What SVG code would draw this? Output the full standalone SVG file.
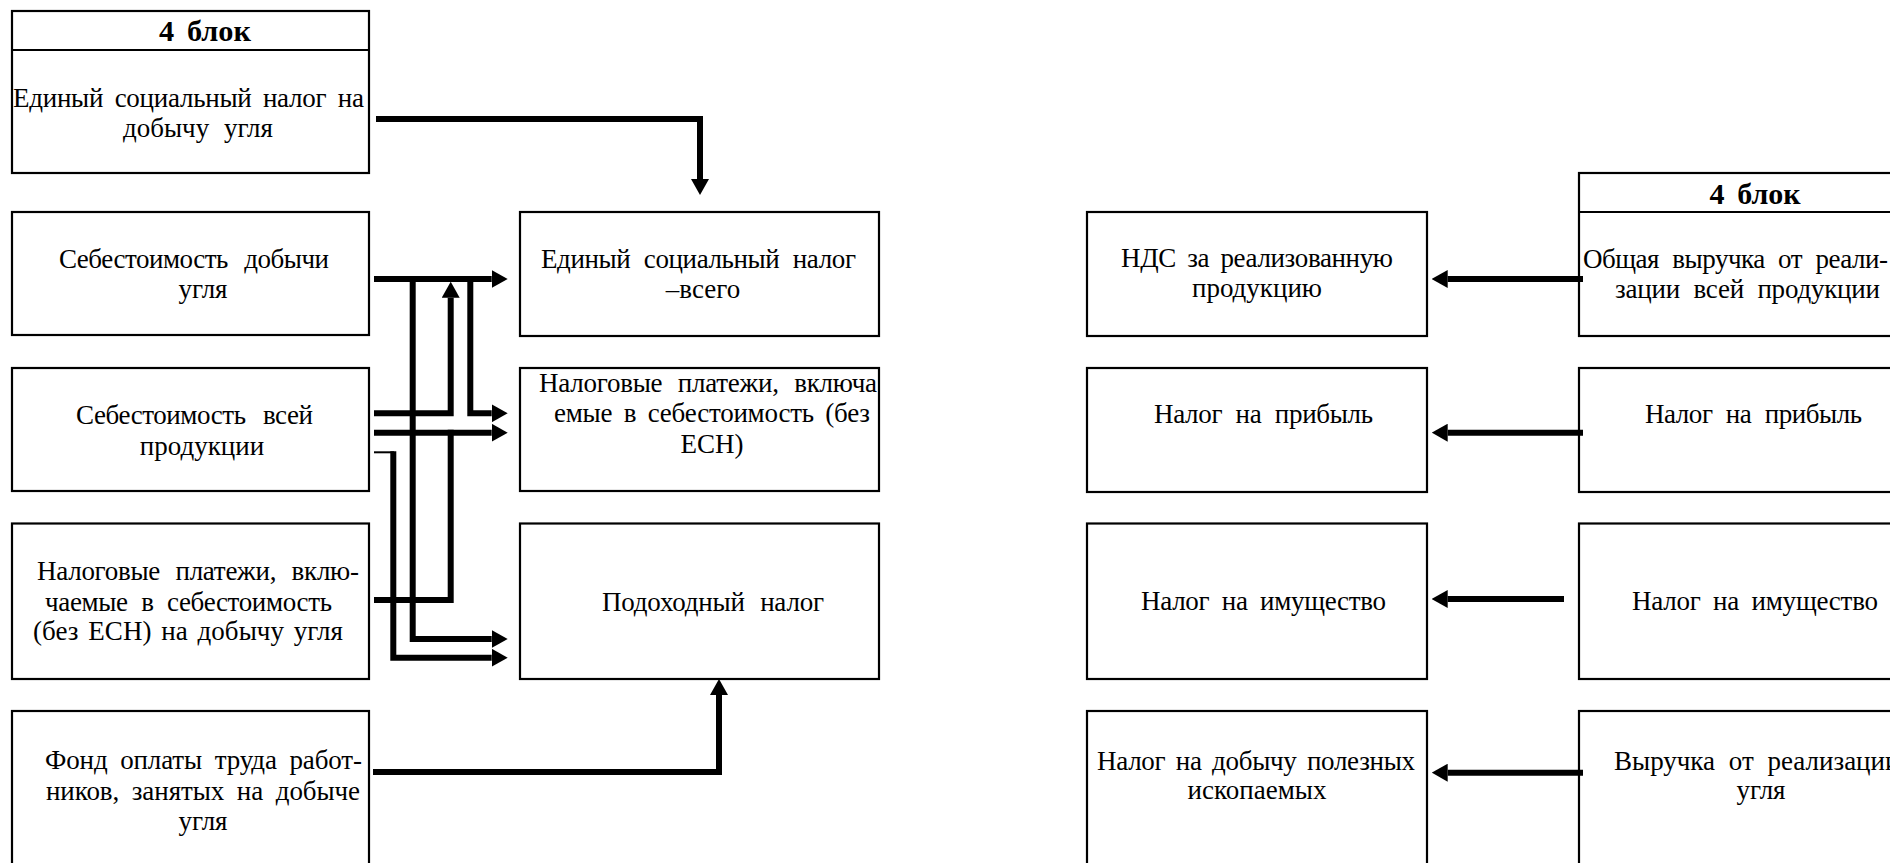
<svg xmlns="http://www.w3.org/2000/svg" width="1890" height="863" viewBox="0 0 1890 863">
  <style>
    .box { fill: #fff; stroke: #000; stroke-width: 2.2; }
    .sep { stroke: #000; stroke-width: 2.2; }
    .t { font-family: "Liberation Serif", "Times New Roman", serif; font-size: 27px; fill: #000; word-spacing: 5px; }
    .c { text-anchor: middle; }
    .h { font-weight: bold; font-size: 29px; }
    .wire { fill: none; stroke: #000; stroke-width: 6; stroke-linejoin: miter; stroke-linecap: butt; }
    .thin { fill: none; stroke: #000; stroke-width: 2; }
  </style>
  <defs>
    <marker id="ah" viewBox="0 0 16 18" markerWidth="16" markerHeight="18" refX="0" refY="9" orient="auto" markerUnits="userSpaceOnUse">
      <path d="M0,0 L16,9 L0,18 z" fill="#000"/>
    </marker>
  </defs>

  <rect width="1890" height="863" fill="#fff"/>

  <!-- left column: sources -->
  <g id="esn-coal">
    <rect class="box" x="12" y="11" width="357" height="162"/>
    <line class="sep" x1="12" y1="50" x2="369" y2="50"/>
    <text class="t h c" x="205" y="41" textLength="92" lengthAdjust="spacingAndGlyphs">4 блок</text>
    <text class="t" x="13" y="107" textLength="351" lengthAdjust="spacing" style="word-spacing:5px">Единый социальный налог на</text>
    <text class="t c" x="198" y="137" style="word-spacing:8px">добычу угля</text>
  </g>
  <g id="cost-coal">
    <rect class="box" x="12" y="212" width="357" height="123"/>
    <text class="t" x="59" y="268" textLength="270" lengthAdjust="spacing" style="word-spacing:10px">Себестоимость добычи</text>
    <text class="t c" x="203" y="298">угля</text>
  </g>
  <g id="cost-all">
    <rect class="box" x="12" y="368" width="357" height="123"/>
    <text class="t" x="76" y="424" textLength="237" lengthAdjust="spacing" style="word-spacing:11px">Себестоимость всей</text>
    <text class="t c" x="202" y="455">продукции</text>
  </g>
  <g id="tax-in-cost-coal">
    <rect class="box" x="12" y="523.5" width="357" height="155.5"/>
    <text class="t" x="37" y="580" textLength="322" lengthAdjust="spacing" style="word-spacing:9px">Налоговые платежи, вклю-</text>
    <text class="t" x="45" y="611" textLength="287" lengthAdjust="spacing" style="word-spacing:7px">чаемые в себестоимость</text>
    <text class="t" x="33" y="640" textLength="310" lengthAdjust="spacing" style="word-spacing:3px">(без ЕСН) на добычу угля</text>
  </g>
  <g id="payroll">
    <rect class="box" x="12" y="711" width="357" height="200"/>
    <text class="t" x="45" y="769" textLength="317" lengthAdjust="spacing" style="word-spacing:6px">Фонд оплаты труда работ-</text>
    <text class="t" x="46" y="800" textLength="314" lengthAdjust="spacing" style="word-spacing:6px">ников, занятых на добыче</text>
    <text class="t c" x="203" y="830">угля</text>
  </g>

  <!-- middle column: taxes -->
  <g id="esn-total">
    <rect class="box" x="520" y="212" width="359" height="124"/>
    <text class="t" x="541" y="268" textLength="315" lengthAdjust="spacing" style="word-spacing:7px">Единый социальный налог</text>
    <text class="t c" x="703" y="298">–всего</text>
  </g>
  <g id="tax-in-cost">
    <rect class="box" x="520" y="368" width="359" height="123"/>
    <text class="t" x="539" y="392" textLength="338" lengthAdjust="spacing" style="word-spacing:9px">Налоговые платежи, включа</text>
    <text class="t" x="554" y="422" textLength="316" lengthAdjust="spacing" style="word-spacing:5px">емые в себестоимость (без</text>
    <text class="t c" x="712" y="453">ЕСН)</text>
  </g>
  <g id="income-tax">
    <rect class="box" x="520" y="523.5" width="359" height="155.5"/>
    <text class="t" x="602" y="611" textLength="222" lengthAdjust="spacing" style="word-spacing:9px">Подоходный налог</text>
  </g>

  <!-- right side: targets -->
  <g id="vat">
    <rect class="box" x="1087" y="212" width="340" height="124"/>
    <text class="t" x="1121" y="267" textLength="272" lengthAdjust="spacing" style="word-spacing:5px">НДС за реализованную</text>
    <text class="t c" x="1257" y="297">продукцию</text>
  </g>
  <g id="profit-tax">
    <rect class="box" x="1087" y="368" width="340" height="124"/>
    <text class="t" x="1154" y="423" textLength="219" lengthAdjust="spacing" style="word-spacing:7px">Налог на прибыль</text>
  </g>
  <g id="property-tax">
    <rect class="box" x="1087" y="523.5" width="340" height="155.5"/>
    <text class="t" x="1141" y="610" textLength="245" lengthAdjust="spacing" style="word-spacing:6px">Налог на имущество</text>
  </g>
  <g id="mining-tax">
    <rect class="box" x="1087" y="711" width="340" height="200"/>
    <text class="t" x="1097" y="770" textLength="318" lengthAdjust="spacing" style="word-spacing:4px">Налог на добычу полезных</text>
    <text class="t c" x="1257" y="799">ископаемых</text>
  </g>

  <!-- right-most column: sources -->
  <g id="revenue-all">
    <rect class="box" x="1579" y="173" width="360" height="163"/>
    <line class="sep" x1="1579" y1="212" x2="1939" y2="212"/>
    <text class="t h c" x="1755" y="204" textLength="91" lengthAdjust="spacingAndGlyphs">4 блок</text>
    <text class="t" x="1583" y="268" textLength="305" lengthAdjust="spacing" style="word-spacing:7px">Общая выручка от реали-</text>
    <text class="t" x="1615" y="298" textLength="265" lengthAdjust="spacing" style="word-spacing:7px">зации всей продукции</text>
  </g>
  <g id="profit-tax-src">
    <rect class="box" x="1579" y="368" width="360" height="124"/>
    <text class="t" x="1645" y="423" textLength="217" lengthAdjust="spacing" style="word-spacing:7px">Налог на прибыль</text>
  </g>
  <g id="property-tax-src">
    <rect class="box" x="1579" y="523.5" width="360" height="155.5"/>
    <text class="t" x="1632" y="610" textLength="246" lengthAdjust="spacing" style="word-spacing:6px">Налог на имущество</text>
  </g>
  <g id="revenue-coal">
    <rect class="box" x="1579" y="711" width="360" height="200"/>
    <text class="t" x="1614" y="770" style="word-spacing:7px">Выручка от реализации</text>
    <text class="t c" x="1761" y="799">угля</text>
  </g>

  <!-- connectors -->
  <g id="connectors">
    <path class="wire" d="M376,119 H700 V179" marker-end="url(#ah)"/>
    <path class="wire" d="M374,279 H491.7" marker-end="url(#ah)"/>
    <path class="wire" d="M412.7,276 V639 H491.7" marker-end="url(#ah)"/>
    <path class="wire" d="M470.3,276 V413.3 H491.7" marker-end="url(#ah)"/>
    <path class="wire" d="M374,413.3 H450.7 V297.7" marker-end="url(#ah)"/>
    <path class="wire" d="M374,432.7 H491.7" marker-end="url(#ah)"/>
    <path class="thin" d="M374,452.3 H394"/>
    <path class="wire" d="M393.3,451.3 V657.7 H491.7" marker-end="url(#ah)"/>
    <path class="wire" d="M374,600 H450.7 V429.7"/>
    <path class="wire" d="M373,772 H719 V695" marker-end="url(#ah)"/>

    <path class="wire" d="M1583,279 H1447.7" marker-end="url(#ah)"/>
    <path class="wire" d="M1583,432.7 H1447.7" marker-end="url(#ah)"/>
    <path class="wire" d="M1564,599 H1447.7" marker-end="url(#ah)"/>
    <path class="wire" d="M1583,772.7 H1447.7" marker-end="url(#ah)"/>
  </g>
</svg>
